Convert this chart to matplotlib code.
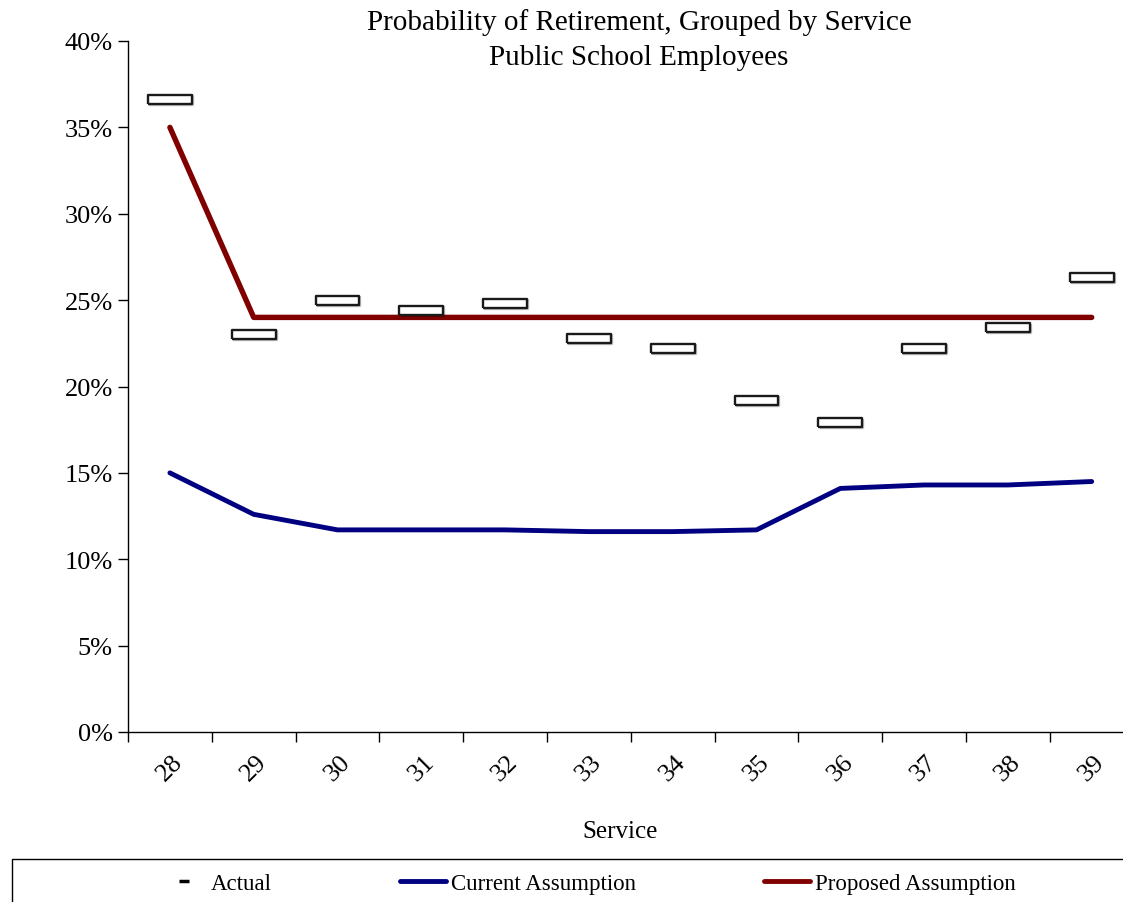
import matplotlib.pyplot as plt
import matplotlib.patheffects as pe
from matplotlib.lines import Line2D
from matplotlib.patches import Rectangle
import numpy as np

plt.rcParams['font.family'] = ['Liberation Serif', 'DejaVu Serif']

# dados
servico  = [28, 29, 30, 31, 32, 33, 34, 35, 36, 37, 38, 39]
actual   = [36.6, 23.0, 25.0, 24.4, 24.8, 22.8, 22.2, 19.2, 17.9, 22.2, 23.4, 26.3]
current  = [15.0, 12.6, 11.7, 11.7, 11.7, 11.6, 11.6, 11.7, 14.1, 14.3, 14.3, 14.5]
proposed = [35.0, 24.0, 24.0, 24.0, 24.0, 24.0, 24.0, 24.0, 24.0, 24.0, 24.0, 24.0]

W, H = 1123, 903
fig = plt.figure(figsize=(W/100, H/100), dpi=100)
ax = fig.add_axes([128/W, 1-733/H, (1133.6-128)/W, (733-42)/H])

x = np.arange(len(servico))

ax.plot(x, current, color='#000080', lw=3.5, solid_capstyle='round', zorder=2)
ax.plot(x, proposed, color='#800000', lw=3.9, solid_capstyle='round', zorder=2)

# marcador retangular para os valores observados
caixa = [(-5, -1), (5, -1), (5, 1), (-5, 1), (-5, -1)]
ax.plot(x, actual, linestyle='none', marker=caixa, markersize=31.5,
        markerfacecolor='white', markeredgecolor='#1a1a1a', markeredgewidth=1.7,
        zorder=3,
        path_effects=[pe.SimpleLineShadow(offset=(0.8, -0.8), alpha=0.25, shadow_color='k'),
                      pe.Normal()])

ax.set_xlim(-0.5, len(servico)-0.5)
ax.set_ylim(0, 40)
ax.set_yticks(np.arange(0, 41, 5))
ax.set_yticklabels([f'{v}%' for v in range(0, 41, 5)], fontsize=19)
ax.set_xticks(x)
ax.set_xticklabels([str(s) for s in servico], rotation=45, fontsize=19,
                   ha='center', va='top')
ax.set_xticks(np.arange(-0.5, len(servico)), minor=True)
ax.tick_params(axis='x', which='major', length=0, pad=13)
ax.tick_params(axis='x', which='minor', length=7, width=1.0, direction='out')
ax.tick_params(axis='y', length=7, width=1.0, direction='out', pad=4)

for lado in ['top', 'right']:
    ax.spines[lado].set_visible(False)
for lado in ['left', 'bottom']:
    ax.spines[lado].set_linewidth(1.0)

fig.text(639/W, 1-23/H, 'Probability of Retirement, Grouped by Service',
         ha='center', va='center', fontsize=21)
fig.text(639/W, 1-58/H, 'Public School Employees',
         ha='center', va='center', fontsize=21)
fig.text(620/W, 1-832/H, 'Service', ha='center', va='center', fontsize=18)

# legenda
fig.patches.append(Rectangle((12/W, -0.05), 1.1, 0.05+43/H, transform=fig.transFigure,
                             fill=False, edgecolor='black', lw=1.0))
handles = [Line2D([], [], color='black', marker='_', markersize=7, markeredgewidth=2.5,
                  linestyle='none'),
           Line2D([], [], color='#000080', lw=3.5, solid_capstyle='round'),
           Line2D([], [], color='#800000', lw=3.5, solid_capstyle='round')]
fig.legend(handles, ['Actual', 'Current Assumption', 'Proposed Assumption'],
           loc='center', bbox_to_anchor=(588/W, 1-884/H), ncol=3, frameon=False,
           fontsize=16.5, handlelength=2.0, handletextpad=0.2, columnspacing=5.6)

fig.savefig('out.png', dpi=100)
